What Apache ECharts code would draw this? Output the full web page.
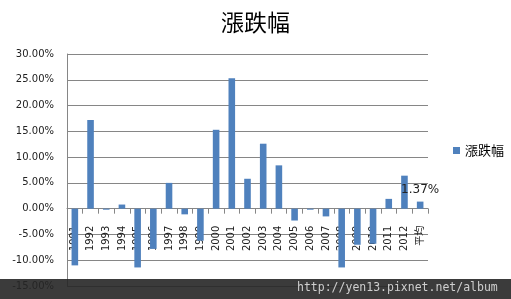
<!DOCTYPE html>
<html>
<head>
<meta charset="utf-8">
<script src="https://cdn.jsdelivr.net/npm/echarts@6/dist/echarts.min.js"></script>
<style>html,body{margin:0;padding:0;background:#fff}#c{width:511px;height:299px}</style>
</head>
<body>
<div id="c"></div>
<script>
var categories = ['1991','1992','1993','1994','1995','1996','1997','1998','1999','2000','2001','2002','2003','2004','2005','2006','2007','2008','2009','2010','2011','2012','平均'];
var values = [-11.0, 17.2, -0.2, 0.8, -11.4, -7.8, 5.0, -1.1, -6.2, 15.3, 25.3, 5.8, 12.6, 8.4, -2.3, -0.2, -1.5, -11.4, -7.0, -6.8, 1.9, 6.4, 1.37];
var yTicks = {min: -15, max: 30, interval: 5};
var seriesName = '漲跌幅';
var watermark = 'http://yen13.pixnet.net/album';

var gridTop = 54, gridBottom = 13, H = 299;
var plotH = H - gridTop - gridBottom;
var zeroOffset = plotH * (0 - yTicks.min) / (yTicks.max - yTicks.min);

var chart = echarts.init(document.getElementById('c'), null, {renderer: 'canvas'});
var data = values.map(function (v, i) {
  var item = {value: v};
  if (i === values.length - 1) {
    item.label = {show: true, position: 'top', distance: 6, formatter: function (p) { return p.value.toFixed(2) + '%'; },
      color: '#222', fontSize: 12, fontFamily: 'DejaVu Sans'};
  }
  return item;
});
chart.setOption({
  animation: false,
  title: {text: seriesName, left: 'center', top: 6,
    textStyle: {fontSize: 23, fontWeight: 'normal', color: '#000', fontFamily: 'Noto Sans CJK TC'}},
  legend: {data: [seriesName], left: 448, top: 139, icon: 'rect', itemWidth: 7, itemHeight: 7, itemGap: 4,
    textStyle: {fontSize: 13, color: '#000', fontFamily: 'Noto Sans CJK TC'}},
  grid: {left: 67, right: 83, top: gridTop, bottom: gridBottom, containLabel: false, outerBoundsMode: 'none'},
  xAxis: {type: 'category', data: categories, position: 'bottom', offset: -zeroOffset,
    axisLine: {onZero: false, lineStyle: {color: '#868686', width: 1}},
    axisTick: {show: true, length: 5, lineStyle: {color: '#868686'}},
    axisLabel: {rotate: 90, margin: 8, padding: [0, 9, 0, 0], fontSize: 10, color: '#222', fontFamily: 'DejaVu Sans, Noto Sans CJK TC', interval: 0, hideOverlap: false},
    splitLine: {show: false}},
  yAxis: {type: 'value', min: yTicks.min, max: yTicks.max, interval: yTicks.interval,
    axisLine: {show: true, lineStyle: {color: '#868686'}},
    axisTick: {show: false},
    axisLabel: {formatter: function (v) { return v.toFixed(2) + '%'; }, fontSize: 10, color: '#222', fontFamily: 'DejaVu Sans', margin: 13},
    splitLine: {lineStyle: {color: '#868686', width: 1}}},
  series: [{name: seriesName, type: 'bar', data: data, barWidth: '42%', itemStyle: {color: '#4f81bd'}}],
  graphic: [
    {type: 'rect', left: 0, top: 279, z: 100, shape: {width: 511, height: 20}, style: {fill: 'rgba(38,38,38,0.9)'}},
    {type: 'text', left: 297, top: 282, z: 101, style: {text: watermark, fill: '#cfcfcf', font: '11.5px "DejaVu Sans Mono"'}}
  ]
});
</script>
</body>
</html>
